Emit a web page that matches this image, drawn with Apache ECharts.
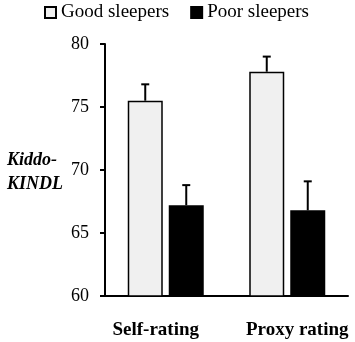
<!DOCTYPE html>
<html>
<head>
<meta charset="utf-8">
<script src="https://cdn.jsdelivr.net/npm/echarts@6/dist/echarts.min.js"></script>
<style>
  html, body { margin: 0; padding: 0; background: #fff; }
  #chart { width: 355px; height: 342px; }
</style>
</head>
<body>
<div id="chart"></div>
<script>
const categories = ["Self-rating", "Proxy rating"];
const goodMeans = [75.5, 77.8];
const goodErrTop = [76.8, 79.0];
const poorMeans = [67.2, 66.8];
const poorErrTop = [68.8, 69.1];
const yTicks = [60, 65, 70, 75, 80];

const FONT = "Liberation Serif";
const BAR_W = 35;
const BAR_GAP = 6;

// error bars (upper half only, with a cap)
function errRender(offset) {
  return function (params, api) {
    const top = api.coord([api.value(0), api.value(2)]);
    const base = api.coord([api.value(0), api.value(1)]);
    const x = top[0] + offset;
    const style = { stroke: "#000", lineWidth: 2 };
    return {
      type: "group",
      children: [
        { type: "line", shape: { x1: x, y1: base[1], x2: x, y2: top[1] }, style },
        { type: "line", shape: { x1: x - 4, y1: top[1], x2: x + 4, y2: top[1] }, style },
      ],
    };
  };
}

const off = (BAR_W + BAR_GAP) / 2;
const chart = echarts.init(document.getElementById("chart"));
chart.setOption({
  animation: false,
  grid: { left: 105, right: 7, top: 44, bottom: 46 },
  legend: {
    top: -2,
    left: 39,
    itemGap: 21,
    itemWidth: 11,
    itemHeight: 11,
    icon: "rect",
    textStyle: { fontFamily: FONT, fontSize: 19, color: "#000" },
    data: ["Good sleepers", "Poor sleepers"],
  },
  graphic: [{
    type: "text",
    left: 7,
    top: 148,
    style: {
      text: "Kiddo-\nKINDL",
      font: "italic bold 18px " + FONT,
      lineHeight: 24,
      fill: "#000",
    },
  }],
  xAxis: {
    type: "category",
    data: [
      { value: categories[0], textStyle: { padding: [0, 20, 0, 0] } },
      { value: categories[1], textStyle: { padding: [0, 0, 0, 20] } },
    ],
    axisLine: { lineStyle: { color: "#000", width: 2 } },
    axisTick: { show: false },
    axisLabel: {
      interval: 0,
      hideOverlap: false,
      fontFamily: FONT, fontWeight: "bold", fontSize: 19, color: "#000", margin: 25,
    },
  },
  yAxis: {
    type: "value",
    min: yTicks[0],
    max: yTicks[yTicks.length - 1],
    interval: 5,
    axisLine: { show: true, lineStyle: { color: "#000", width: 2 } },
    axisTick: { show: true, length: 5, lineStyle: { color: "#000", width: 2 } },
    splitLine: { show: false },
    axisLabel: { fontFamily: FONT, fontSize: 18, color: "#000", margin: 16 },
  },
  series: [
    {
      name: "Good sleepers",
      type: "bar",
      data: goodMeans,
      barWidth: BAR_W,
      barGap: (BAR_GAP / BAR_W * 100) + "%",
      itemStyle: { color: "#f0f0f0", borderColor: "#000", borderWidth: 1.5 },
      z: 2,
    },
    {
      name: "Poor sleepers",
      type: "bar",
      data: poorMeans,
      barWidth: BAR_W,
      itemStyle: { color: "#000", borderColor: "#000", borderWidth: 1.5 },
      z: 2,
    },
    {
      type: "custom",
      renderItem: errRender(-off),
      data: categories.map((c, i) => [i, goodMeans[i], goodErrTop[i]]),
      z: 1,
    },
    {
      type: "custom",
      renderItem: errRender(off),
      data: categories.map((c, i) => [i, poorMeans[i], poorErrTop[i]]),
      z: 1,
    },
  ],
});
</script>
</body>
</html>
